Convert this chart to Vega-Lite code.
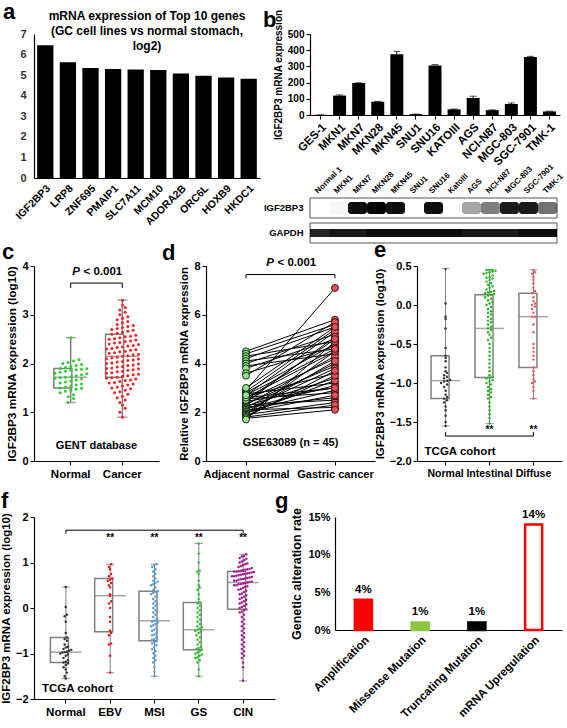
{
"$schema":"https://vega.github.io/schema/vega-lite/v6.json",
"padding":0,
"background":"white",
"config":{
 "font":"Liberation Sans",
 "view":{"stroke":null},
 "axis":{"grid":false,"domainColor":"#000","tickColor":"#000","labelColor":"#000","titleColor":"#000","labelFont":"Liberation Sans","titleFont":"Liberation Sans","labelFontWeight":"bold","titleFontWeight":"bold","labelFontSize":11,"titleFontSize":11.5,"tickSize":4,"domainWidth":1.2,"labelOverlap":false},
 "title":{"anchor":"start","frame":"group","fontSize":22,"fontWeight":"bold","color":"#000","font":"Liberation Sans"},
 "text":{"font":"Liberation Sans"}
},
"datasets":{
 "cbox":[{"g":"Normal","lo":1.2,"q1":1.5,"md":1.72,"q3":1.9,"hi":2.53},{"g":"Cancer","lo":0.9,"q1":1.72,"md":2.15,"q3":2.6,"hi":3.3}],
 "ebox":[{"g":"Normal","lo":-1.55,"q1":-1.2,"md":-0.97,"q3":-0.65,"hi":0.47},{"g":"Intestinal","lo":-1.52,"q1":-0.93,"md":-0.3,"q3":0.13,"hi":0.45},{"g":"Diffuse","lo":-1.2,"q1":-0.8,"md":-0.15,"q3":0.15,"hi":0.45}],
 "fbox":[{"g":"Normal","lo":-1.55,"q1":-1.2,"md":-0.97,"q3":-0.65,"hi":0.46},{"g":"EBV","lo":-1.42,"q1":-0.52,"md":0.27,"q3":0.65,"hi":0.96},{"g":"MSI","lo":-1.5,"q1":-0.72,"md":-0.28,"q3":0.37,"hi":0.96},{"g":"GS","lo":-1.5,"q1":-0.92,"md":-0.48,"q3":0.12,"hi":1.42},{"g":"CIN","lo":-1.6,"q1":-0.03,"md":0.56,"q3":0.8,"hi":1.18}],
 "cpts":[
{"g":"Normal","v":1.2},{"g":"Normal","v":1.28},{"g":"Normal","v":1.32},{"g":"Normal","v":1.36},{"g":"Normal","v":1.4},{"g":"Normal","v":1.43},{"g":"Normal","v":1.45},{"g":"Normal","v":1.47},{"g":"Normal","v":1.49},{"g":"Normal","v":1.5},{"g":"Normal","v":1.52},{"g":"Normal","v":1.54},{"g":"Normal","v":1.56},{"g":"Normal","v":1.58},{"g":"Normal","v":1.6},{"g":"Normal","v":1.62},{"g":"Normal","v":1.64},{"g":"Normal","v":1.66},{"g":"Normal","v":1.68},{"g":"Normal","v":1.7},{"g":"Normal","v":1.71},{"g":"Normal","v":1.72},{"g":"Normal","v":1.73},{"g":"Normal","v":1.75},{"g":"Normal","v":1.77},{"g":"Normal","v":1.79},{"g":"Normal","v":1.8},{"g":"Normal","v":1.82},{"g":"Normal","v":1.84},{"g":"Normal","v":1.86},{"g":"Normal","v":1.87},{"g":"Normal","v":1.88},{"g":"Normal","v":1.89},{"g":"Normal","v":1.9},{"g":"Normal","v":1.92},{"g":"Normal","v":1.94},{"g":"Normal","v":1.96},{"g":"Normal","v":1.98},{"g":"Normal","v":2.0},{"g":"Normal","v":2.02},{"g":"Normal","v":2.05},{"g":"Normal","v":2.08},{"g":"Normal","v":2.53},
{"g":"Cancer","v":0.9},{"g":"Cancer","v":1.0},{"g":"Cancer","v":1.08},{"g":"Cancer","v":1.15},{"g":"Cancer","v":1.2},{"g":"Cancer","v":1.25},{"g":"Cancer","v":1.3},{"g":"Cancer","v":1.33},{"g":"Cancer","v":1.37},{"g":"Cancer","v":1.4},{"g":"Cancer","v":1.42},{"g":"Cancer","v":1.45},{"g":"Cancer","v":1.48},{"g":"Cancer","v":1.5},{"g":"Cancer","v":1.52},{"g":"Cancer","v":1.54},{"g":"Cancer","v":1.56},{"g":"Cancer","v":1.58},{"g":"Cancer","v":1.6},{"g":"Cancer","v":1.61},{"g":"Cancer","v":1.63},{"g":"Cancer","v":1.65},{"g":"Cancer","v":1.66},{"g":"Cancer","v":1.68},{"g":"Cancer","v":1.7},{"g":"Cancer","v":1.71},{"g":"Cancer","v":1.72},{"g":"Cancer","v":1.74},{"g":"Cancer","v":1.75},{"g":"Cancer","v":1.77},{"g":"Cancer","v":1.78},{"g":"Cancer","v":1.8},{"g":"Cancer","v":1.81},{"g":"Cancer","v":1.83},{"g":"Cancer","v":1.84},{"g":"Cancer","v":1.86},{"g":"Cancer","v":1.87},{"g":"Cancer","v":1.89},{"g":"Cancer","v":1.9},{"g":"Cancer","v":1.91},{"g":"Cancer","v":1.93},{"g":"Cancer","v":1.94},{"g":"Cancer","v":1.96},{"g":"Cancer","v":1.97},{"g":"Cancer","v":1.99},{"g":"Cancer","v":2.0},{"g":"Cancer","v":2.01},{"g":"Cancer","v":2.03},{"g":"Cancer","v":2.04},{"g":"Cancer","v":2.06},{"g":"Cancer","v":2.07},{"g":"Cancer","v":2.09},{"g":"Cancer","v":2.1},{"g":"Cancer","v":2.12},{"g":"Cancer","v":2.13},{"g":"Cancer","v":2.15},{"g":"Cancer","v":2.16},{"g":"Cancer","v":2.18},{"g":"Cancer","v":2.19},{"g":"Cancer","v":2.21},{"g":"Cancer","v":2.22},{"g":"Cancer","v":2.24},{"g":"Cancer","v":2.25},{"g":"Cancer","v":2.27},{"g":"Cancer","v":2.28},{"g":"Cancer","v":2.3},{"g":"Cancer","v":2.31},{"g":"Cancer","v":2.33},{"g":"Cancer","v":2.34},{"g":"Cancer","v":2.36},{"g":"Cancer","v":2.37},{"g":"Cancer","v":2.39},{"g":"Cancer","v":2.4},{"g":"Cancer","v":2.42},{"g":"Cancer","v":2.43},{"g":"Cancer","v":2.45},{"g":"Cancer","v":2.46},{"g":"Cancer","v":2.48},{"g":"Cancer","v":2.5},{"g":"Cancer","v":2.51},{"g":"Cancer","v":2.53},{"g":"Cancer","v":2.55},{"g":"Cancer","v":2.56},{"g":"Cancer","v":2.58},{"g":"Cancer","v":2.6},{"g":"Cancer","v":2.62},{"g":"Cancer","v":2.64},{"g":"Cancer","v":2.66},{"g":"Cancer","v":2.68},{"g":"Cancer","v":2.7},{"g":"Cancer","v":2.72},{"g":"Cancer","v":2.74},{"g":"Cancer","v":2.76},{"g":"Cancer","v":2.78},{"g":"Cancer","v":2.8},{"g":"Cancer","v":2.83},{"g":"Cancer","v":2.86},{"g":"Cancer","v":2.9},{"g":"Cancer","v":2.93},{"g":"Cancer","v":2.96},{"g":"Cancer","v":3.0},{"g":"Cancer","v":3.05},{"g":"Cancer","v":3.1},{"g":"Cancer","v":3.15},{"g":"Cancer","v":3.2},{"g":"Cancer","v":3.3}
 ],
 "dpts":[
{"p":1,"g":"Adjacent normal","v":4.5},{"p":1,"g":"Gastric cancer","v":5.8},
{"p":2,"g":"Adjacent normal","v":4.4},{"p":2,"g":"Gastric cancer","v":5.6},
{"p":3,"g":"Adjacent normal","v":4.3},{"p":3,"g":"Gastric cancer","v":4.9},
{"p":4,"g":"Adjacent normal","v":4.2},{"p":4,"g":"Gastric cancer","v":5.5},
{"p":5,"g":"Adjacent normal","v":4.1},{"p":5,"g":"Gastric cancer","v":4.6},
{"p":6,"g":"Adjacent normal","v":4.0},{"p":6,"g":"Gastric cancer","v":5.2},
{"p":7,"g":"Adjacent normal","v":3.9},{"p":7,"g":"Gastric cancer","v":4.4},
{"p":8,"g":"Adjacent normal","v":3.8},{"p":8,"g":"Gastric cancer","v":5.0},
{"p":9,"g":"Adjacent normal","v":3.6},{"p":9,"g":"Gastric cancer","v":4.7},
{"p":10,"g":"Adjacent normal","v":3.5},{"p":10,"g":"Gastric cancer","v":5.7},
{"p":11,"g":"Adjacent normal","v":2.9},{"p":11,"g":"Gastric cancer","v":7.1},
{"p":12,"g":"Adjacent normal","v":2.85},{"p":12,"g":"Gastric cancer","v":5.4},
{"p":13,"g":"Adjacent normal","v":2.8},{"p":13,"g":"Gastric cancer","v":4.8},
{"p":14,"g":"Adjacent normal","v":2.75},{"p":14,"g":"Gastric cancer","v":3.2},
{"p":15,"g":"Adjacent normal","v":2.7},{"p":15,"g":"Gastric cancer","v":5.3},
{"p":16,"g":"Adjacent normal","v":2.65},{"p":16,"g":"Gastric cancer","v":3.6},
{"p":17,"g":"Adjacent normal","v":2.6},{"p":17,"g":"Gastric cancer","v":4.5},
{"p":18,"g":"Adjacent normal","v":2.55},{"p":18,"g":"Gastric cancer","v":2.8},
{"p":19,"g":"Adjacent normal","v":2.5},{"p":19,"g":"Gastric cancer","v":4.2},
{"p":20,"g":"Adjacent normal","v":2.45},{"p":20,"g":"Gastric cancer","v":3.0},
{"p":21,"g":"Adjacent normal","v":2.4},{"p":21,"g":"Gastric cancer","v":5.1},
{"p":22,"g":"Adjacent normal","v":2.35},{"p":22,"g":"Gastric cancer","v":3.9},
{"p":23,"g":"Adjacent normal","v":2.3},{"p":23,"g":"Gastric cancer","v":2.5},
{"p":24,"g":"Adjacent normal","v":2.3},{"p":24,"g":"Gastric cancer","v":4.3},
{"p":25,"g":"Adjacent normal","v":2.25},{"p":25,"g":"Gastric cancer","v":3.4},
{"p":26,"g":"Adjacent normal","v":2.2},{"p":26,"g":"Gastric cancer","v":2.6},
{"p":27,"g":"Adjacent normal","v":2.2},{"p":27,"g":"Gastric cancer","v":4.0},
{"p":28,"g":"Adjacent normal","v":2.15},{"p":28,"g":"Gastric cancer","v":3.1},
{"p":29,"g":"Adjacent normal","v":2.1},{"p":29,"g":"Gastric cancer","v":2.2},
{"p":30,"g":"Adjacent normal","v":2.1},{"p":30,"g":"Gastric cancer","v":3.8},
{"p":31,"g":"Adjacent normal","v":2.05},{"p":31,"g":"Gastric cancer","v":2.9},
{"p":32,"g":"Adjacent normal","v":2.0},{"p":32,"g":"Gastric cancer","v":4.1},
{"p":33,"g":"Adjacent normal","v":2.0},{"p":33,"g":"Gastric cancer","v":2.7},
{"p":34,"g":"Adjacent normal","v":1.95},{"p":34,"g":"Gastric cancer","v":3.3},
{"p":35,"g":"Adjacent normal","v":1.9},{"p":35,"g":"Gastric cancer","v":2.4},
{"p":36,"g":"Adjacent normal","v":1.9},{"p":36,"g":"Gastric cancer","v":4.5},
{"p":37,"g":"Adjacent normal","v":1.85},{"p":37,"g":"Gastric cancer","v":3.5},
{"p":38,"g":"Adjacent normal","v":1.8},{"p":38,"g":"Gastric cancer","v":2.3},
{"p":39,"g":"Adjacent normal","v":1.8},{"p":39,"g":"Gastric cancer","v":3.7},
{"p":40,"g":"Adjacent normal","v":1.75},{"p":40,"g":"Gastric cancer","v":2.1},
{"p":41,"g":"Adjacent normal","v":1.7},{"p":41,"g":"Gastric cancer","v":4.9},
{"p":42,"g":"Adjacent normal","v":2.5},{"p":42,"g":"Gastric cancer","v":5.0},
{"p":43,"g":"Adjacent normal","v":2.6},{"p":43,"g":"Gastric cancer","v":3.0},
{"p":44,"g":"Adjacent normal","v":2.7},{"p":44,"g":"Gastric cancer","v":4.6},
{"p":45,"g":"Adjacent normal","v":3.0},{"p":45,"g":"Gastric cancer","v":5.5}
 ],
 "epts":[
{"g":"Normal","v":-1.55},{"g":"Normal","v":-1.5},{"g":"Normal","v":-1.42},{"g":"Normal","v":-1.35},{"g":"Normal","v":-1.3},{"g":"Normal","v":-1.25},{"g":"Normal","v":-1.22},{"g":"Normal","v":-1.2},{"g":"Normal","v":-1.18},{"g":"Normal","v":-1.15},{"g":"Normal","v":-1.1},{"g":"Normal","v":-1.05},{"g":"Normal","v":-1.02},{"g":"Normal","v":-1.0},{"g":"Normal","v":-0.98},{"g":"Normal","v":-0.97},{"g":"Normal","v":-0.96},{"g":"Normal","v":-0.94},{"g":"Normal","v":-0.92},{"g":"Normal","v":-0.9},{"g":"Normal","v":-0.87},{"g":"Normal","v":-0.85},{"g":"Normal","v":-0.8},{"g":"Normal","v":-0.72},{"g":"Normal","v":-0.68},{"g":"Normal","v":-0.65},{"g":"Normal","v":-0.55},{"g":"Normal","v":-0.3},{"g":"Normal","v":-0.18},{"g":"Normal","v":-0.15},{"g":"Normal","v":0.02},{"g":"Normal","v":0.46},
{"g":"Intestinal","v":-1.52},{"g":"Intestinal","v":-1.45},{"g":"Intestinal","v":-1.4},{"g":"Intestinal","v":-1.35},{"g":"Intestinal","v":-1.3},{"g":"Intestinal","v":-1.25},{"g":"Intestinal","v":-1.2},{"g":"Intestinal","v":-1.18},{"g":"Intestinal","v":-1.15},{"g":"Intestinal","v":-1.12},{"g":"Intestinal","v":-1.1},{"g":"Intestinal","v":-1.08},{"g":"Intestinal","v":-1.05},{"g":"Intestinal","v":-1.02},{"g":"Intestinal","v":-1.0},{"g":"Intestinal","v":-0.98},{"g":"Intestinal","v":-0.96},{"g":"Intestinal","v":-0.94},{"g":"Intestinal","v":-0.93},{"g":"Intestinal","v":-0.92},{"g":"Intestinal","v":-0.9},{"g":"Intestinal","v":-0.85},{"g":"Intestinal","v":-0.8},{"g":"Intestinal","v":-0.75},{"g":"Intestinal","v":-0.7},{"g":"Intestinal","v":-0.65},{"g":"Intestinal","v":-0.6},{"g":"Intestinal","v":-0.55},{"g":"Intestinal","v":-0.5},{"g":"Intestinal","v":-0.45},{"g":"Intestinal","v":-0.42},{"g":"Intestinal","v":-0.38},{"g":"Intestinal","v":-0.35},{"g":"Intestinal","v":-0.32},{"g":"Intestinal","v":-0.3},{"g":"Intestinal","v":-0.28},{"g":"Intestinal","v":-0.25},{"g":"Intestinal","v":-0.22},{"g":"Intestinal","v":-0.2},{"g":"Intestinal","v":-0.18},{"g":"Intestinal","v":-0.15},{"g":"Intestinal","v":-0.12},{"g":"Intestinal","v":-0.1},{"g":"Intestinal","v":-0.08},{"g":"Intestinal","v":-0.05},{"g":"Intestinal","v":-0.03},{"g":"Intestinal","v":0.0},{"g":"Intestinal","v":0.02},{"g":"Intestinal","v":0.04},{"g":"Intestinal","v":0.06},{"g":"Intestinal","v":0.08},{"g":"Intestinal","v":0.1},{"g":"Intestinal","v":0.12},{"g":"Intestinal","v":0.13},{"g":"Intestinal","v":0.14},{"g":"Intestinal","v":0.15},{"g":"Intestinal","v":0.16},{"g":"Intestinal","v":0.17},{"g":"Intestinal","v":0.18},{"g":"Intestinal","v":0.2},{"g":"Intestinal","v":0.22},{"g":"Intestinal","v":0.24},{"g":"Intestinal","v":0.26},{"g":"Intestinal","v":0.28},{"g":"Intestinal","v":0.3},{"g":"Intestinal","v":0.32},{"g":"Intestinal","v":0.34},{"g":"Intestinal","v":0.35},{"g":"Intestinal","v":0.36},{"g":"Intestinal","v":0.38},{"g":"Intestinal","v":0.4},{"g":"Intestinal","v":0.41},{"g":"Intestinal","v":0.42},{"g":"Intestinal","v":0.43},{"g":"Intestinal","v":0.44},{"g":"Intestinal","v":0.45},{"g":"Intestinal","v":0.45},{"g":"Intestinal","v":0.45},
{"g":"Diffuse","v":-1.2},{"g":"Diffuse","v":-1.1},{"g":"Diffuse","v":-1.05},{"g":"Diffuse","v":-1.0},{"g":"Diffuse","v":-0.98},{"g":"Diffuse","v":-0.95},{"g":"Diffuse","v":-0.9},{"g":"Diffuse","v":-0.85},{"g":"Diffuse","v":-0.8},{"g":"Diffuse","v":-0.7},{"g":"Diffuse","v":-0.65},{"g":"Diffuse","v":-0.6},{"g":"Diffuse","v":-0.55},{"g":"Diffuse","v":-0.5},{"g":"Diffuse","v":-0.35},{"g":"Diffuse","v":-0.25},{"g":"Diffuse","v":-0.15},{"g":"Diffuse","v":-0.15},{"g":"Diffuse","v":-0.1},{"g":"Diffuse","v":-0.05},{"g":"Diffuse","v":-0.02},{"g":"Diffuse","v":0.0},{"g":"Diffuse","v":0.02},{"g":"Diffuse","v":0.05},{"g":"Diffuse","v":0.1},{"g":"Diffuse","v":0.15},{"g":"Diffuse","v":0.18},{"g":"Diffuse","v":0.22},{"g":"Diffuse","v":0.28},{"g":"Diffuse","v":0.32},{"g":"Diffuse","v":0.36},{"g":"Diffuse","v":0.4},{"g":"Diffuse","v":0.42},{"g":"Diffuse","v":0.45}
 ],
 "fpts":[
{"g":"Normal","v":-1.55},{"g":"Normal","v":-1.5},{"g":"Normal","v":-1.42},{"g":"Normal","v":-1.35},{"g":"Normal","v":-1.3},{"g":"Normal","v":-1.25},{"g":"Normal","v":-1.22},{"g":"Normal","v":-1.2},{"g":"Normal","v":-1.18},{"g":"Normal","v":-1.15},{"g":"Normal","v":-1.1},{"g":"Normal","v":-1.05},{"g":"Normal","v":-1.02},{"g":"Normal","v":-1.0},{"g":"Normal","v":-0.98},{"g":"Normal","v":-0.97},{"g":"Normal","v":-0.96},{"g":"Normal","v":-0.94},{"g":"Normal","v":-0.92},{"g":"Normal","v":-0.9},{"g":"Normal","v":-0.87},{"g":"Normal","v":-0.85},{"g":"Normal","v":-0.8},{"g":"Normal","v":-0.72},{"g":"Normal","v":-0.68},{"g":"Normal","v":-0.65},{"g":"Normal","v":-0.55},{"g":"Normal","v":-0.3},{"g":"Normal","v":-0.18},{"g":"Normal","v":-0.15},{"g":"Normal","v":0.02},{"g":"Normal","v":0.46},
{"g":"EBV","v":-1.42},{"g":"EBV","v":-1.05},{"g":"EBV","v":-0.8},{"g":"EBV","v":-0.78},{"g":"EBV","v":-0.6},{"g":"EBV","v":-0.55},{"g":"EBV","v":-0.5},{"g":"EBV","v":-0.3},{"g":"EBV","v":-0.2},{"g":"EBV","v":0.0},{"g":"EBV","v":0.1},{"g":"EBV","v":0.15},{"g":"EBV","v":0.27},{"g":"EBV","v":0.3},{"g":"EBV","v":0.45},{"g":"EBV","v":0.5},{"g":"EBV","v":0.55},{"g":"EBV","v":0.6},{"g":"EBV","v":0.62},{"g":"EBV","v":0.65},{"g":"EBV","v":0.7},{"g":"EBV","v":0.75},{"g":"EBV","v":0.85},{"g":"EBV","v":0.9},{"g":"EBV","v":0.96},
{"g":"MSI","v":-1.5},{"g":"MSI","v":-1.4},{"g":"MSI","v":-1.3},{"g":"MSI","v":-1.2},{"g":"MSI","v":-1.15},{"g":"MSI","v":-1.1},{"g":"MSI","v":-1.05},{"g":"MSI","v":-1.0},{"g":"MSI","v":-0.95},{"g":"MSI","v":-0.9},{"g":"MSI","v":-0.85},{"g":"MSI","v":-0.82},{"g":"MSI","v":-0.78},{"g":"MSI","v":-0.75},{"g":"MSI","v":-0.73},{"g":"MSI","v":-0.7},{"g":"MSI","v":-0.68},{"g":"MSI","v":-0.65},{"g":"MSI","v":-0.6},{"g":"MSI","v":-0.58},{"g":"MSI","v":-0.55},{"g":"MSI","v":-0.5},{"g":"MSI","v":-0.48},{"g":"MSI","v":-0.45},{"g":"MSI","v":-0.4},{"g":"MSI","v":-0.38},{"g":"MSI","v":-0.35},{"g":"MSI","v":-0.32},{"g":"MSI","v":-0.3},{"g":"MSI","v":-0.28},{"g":"MSI","v":-0.25},{"g":"MSI","v":-0.2},{"g":"MSI","v":-0.15},{"g":"MSI","v":-0.1},{"g":"MSI","v":-0.05},{"g":"MSI","v":0.0},{"g":"MSI","v":0.05},{"g":"MSI","v":0.1},{"g":"MSI","v":0.15},{"g":"MSI","v":0.2},{"g":"MSI","v":0.25},{"g":"MSI","v":0.3},{"g":"MSI","v":0.33},{"g":"MSI","v":0.35},{"g":"MSI","v":0.37},{"g":"MSI","v":0.4},{"g":"MSI","v":0.45},{"g":"MSI","v":0.5},{"g":"MSI","v":0.52},{"g":"MSI","v":0.55},{"g":"MSI","v":0.58},{"g":"MSI","v":0.6},{"g":"MSI","v":0.65},{"g":"MSI","v":0.7},{"g":"MSI","v":0.75},{"g":"MSI","v":0.8},{"g":"MSI","v":0.85},{"g":"MSI","v":0.9},{"g":"MSI","v":0.93},{"g":"MSI","v":0.96},
{"g":"GS","v":-1.5},{"g":"GS","v":-1.35},{"g":"GS","v":-1.2},{"g":"GS","v":-1.15},{"g":"GS","v":-1.1},{"g":"GS","v":-1.08},{"g":"GS","v":-1.05},{"g":"GS","v":-1.02},{"g":"GS","v":-1.0},{"g":"GS","v":-0.98},{"g":"GS","v":-0.95},{"g":"GS","v":-0.92},{"g":"GS","v":-0.9},{"g":"GS","v":-0.88},{"g":"GS","v":-0.85},{"g":"GS","v":-0.8},{"g":"GS","v":-0.75},{"g":"GS","v":-0.7},{"g":"GS","v":-0.65},{"g":"GS","v":-0.6},{"g":"GS","v":-0.55},{"g":"GS","v":-0.52},{"g":"GS","v":-0.5},{"g":"GS","v":-0.48},{"g":"GS","v":-0.45},{"g":"GS","v":-0.42},{"g":"GS","v":-0.4},{"g":"GS","v":-0.35},{"g":"GS","v":-0.3},{"g":"GS","v":-0.25},{"g":"GS","v":-0.2},{"g":"GS","v":-0.15},{"g":"GS","v":-0.1},{"g":"GS","v":-0.05},{"g":"GS","v":0.0},{"g":"GS","v":0.05},{"g":"GS","v":0.1},{"g":"GS","v":0.12},{"g":"GS","v":0.2},{"g":"GS","v":0.3},{"g":"GS","v":0.4},{"g":"GS","v":0.45},{"g":"GS","v":0.5},{"g":"GS","v":0.6},{"g":"GS","v":0.75},{"g":"GS","v":0.8},{"g":"GS","v":0.82},{"g":"GS","v":1.0},{"g":"GS","v":1.2},{"g":"GS","v":1.42},
{"g":"CIN","v":-1.6},{"g":"CIN","v":-1.3},{"g":"CIN","v":-1.2},{"g":"CIN","v":-1.1},{"g":"CIN","v":-1.05},{"g":"CIN","v":-1.0},{"g":"CIN","v":-0.95},{"g":"CIN","v":-0.9},{"g":"CIN","v":-0.85},{"g":"CIN","v":-0.8},{"g":"CIN","v":-0.75},{"g":"CIN","v":-0.7},{"g":"CIN","v":-0.65},{"g":"CIN","v":-0.6},{"g":"CIN","v":-0.55},{"g":"CIN","v":-0.5},{"g":"CIN","v":-0.45},{"g":"CIN","v":-0.4},{"g":"CIN","v":-0.35},{"g":"CIN","v":-0.3},{"g":"CIN","v":-0.25},{"g":"CIN","v":-0.2},{"g":"CIN","v":-0.15},{"g":"CIN","v":-0.1},{"g":"CIN","v":-0.08},{"g":"CIN","v":-0.05},{"g":"CIN","v":-0.03},{"g":"CIN","v":0.0},{"g":"CIN","v":0.02},{"g":"CIN","v":0.05},{"g":"CIN","v":0.08},{"g":"CIN","v":0.1},{"g":"CIN","v":0.12},{"g":"CIN","v":0.15},{"g":"CIN","v":0.18},{"g":"CIN","v":0.2},{"g":"CIN","v":0.22},{"g":"CIN","v":0.25},{"g":"CIN","v":0.28},{"g":"CIN","v":0.3},{"g":"CIN","v":0.32},{"g":"CIN","v":0.35},{"g":"CIN","v":0.38},{"g":"CIN","v":0.4},{"g":"CIN","v":0.42},{"g":"CIN","v":0.44},{"g":"CIN","v":0.46},{"g":"CIN","v":0.48},{"g":"CIN","v":0.5},{"g":"CIN","v":0.5},{"g":"CIN","v":0.52},{"g":"CIN","v":0.53},{"g":"CIN","v":0.54},{"g":"CIN","v":0.55},{"g":"CIN","v":0.56},{"g":"CIN","v":0.57},{"g":"CIN","v":0.58},{"g":"CIN","v":0.6},{"g":"CIN","v":0.6},{"g":"CIN","v":0.62},{"g":"CIN","v":0.63},{"g":"CIN","v":0.64},{"g":"CIN","v":0.65},{"g":"CIN","v":0.66},{"g":"CIN","v":0.67},{"g":"CIN","v":0.68},{"g":"CIN","v":0.7},{"g":"CIN","v":0.7},{"g":"CIN","v":0.71},{"g":"CIN","v":0.72},{"g":"CIN","v":0.73},{"g":"CIN","v":0.74},{"g":"CIN","v":0.75},{"g":"CIN","v":0.76},{"g":"CIN","v":0.77},{"g":"CIN","v":0.78},{"g":"CIN","v":0.79},{"g":"CIN","v":0.8},{"g":"CIN","v":0.8},{"g":"CIN","v":0.81},{"g":"CIN","v":0.82},{"g":"CIN","v":0.83},{"g":"CIN","v":0.84},{"g":"CIN","v":0.85},{"g":"CIN","v":0.86},{"g":"CIN","v":0.88},{"g":"CIN","v":0.9},{"g":"CIN","v":0.92},{"g":"CIN","v":0.94},{"g":"CIN","v":0.96},{"g":"CIN","v":0.98},{"g":"CIN","v":1.0},{"g":"CIN","v":1.02},{"g":"CIN","v":1.05},{"g":"CIN","v":1.08},{"g":"CIN","v":1.1},{"g":"CIN","v":1.13},{"g":"CIN","v":1.15},{"g":"CIN","v":1.18}
 ]
},
"spacing":10,
"resolve":{"scale":{"color":"independent","xOffset":"independent","opacity":"independent","fill":"independent","stroke":"independent"}},
"vconcat":[
 {"spacing":-5,
  "resolve":{"scale":{"color":"independent","xOffset":"independent","opacity":"independent","fill":"independent","stroke":"independent"}},
  "vconcat":[
  {"spacing":3,
   "resolve":{"scale":{"color":"independent","xOffset":"independent","opacity":"independent","fill":"independent","stroke":"independent"}},
   "hconcat":[
    {"width":226,"height":144,
     "title":{"text":"a","dx":-31,"offset":-13.4},
     "data":{"values":[{"gene":"IGF2BP3","v":6.45},{"gene":"LRP8","v":5.63},{"gene":"ZNF695","v":5.35},{"gene":"PMAIP1","v":5.3},{"gene":"SLC7A11","v":5.28},{"gene":"MCM10","v":5.25},{"gene":"ADORA2B","v":5.08},{"gene":"ORC6L","v":4.97},{"gene":"HOXB9","v":4.88},{"gene":"HKDC1","v":4.82}]},
     "layer":[
      {"mark":{"type":"bar","color":"#000","width":{"band":0.72}},
       "encoding":{
        "x":{"field":"gene","type":"nominal","sort":null,"scale":{"paddingInner":0,"paddingOuter":0},"axis":{"title":null,"labelAngle":-45,"ticks":false,"labelFontSize":10.5,"labelPadding":5}},
        "y":{"field":"v","type":"quantitative","scale":{"domain":[0,7]},"axis":{"title":null,"values":[0,1,2,3,4,5,6,7],"tickCount":20,"format":"d","labelOverlap":false,"ticks":false,"labelPadding":8,"labelColor":"#333"}}}},
      {"data":{"values":[{}]},"mark":{"type":"text","text":"mRNA expression of Top 10 genes","fontSize":12,"fontWeight":"bold"},
       "encoding":{"y":{"datum":7.86,"type":"quantitative","scale":{"domain":[0,7]}}}},
      {"data":{"values":[{}]},"mark":{"type":"text","text":"(GC cell lines vs normal stomach,","fontSize":12,"fontWeight":"bold"},
       "encoding":{"y":{"datum":7.14,"type":"quantitative","scale":{"domain":[0,7]}}}},
      {"data":{"values":[{}]},"mark":{"type":"text","text":"log2)","fontSize":12,"fontWeight":"bold"},
       "encoding":{"y":{"datum":6.41,"type":"quantitative","scale":{"domain":[0,7]}}}}
     ]},
    {"spacing":-6,
     "resolve":{"scale":{"color":"independent","xOffset":"independent","opacity":"independent","fill":"independent","stroke":"independent"}},
     "vconcat":[
     {"width":250,"height":81,
      "title":{"text":"b","dx":-47,"offset":-22.4},
      "data":{"values":[{"c":"GES-1","v":1,"hi":1},{"c":"MKN1","v":120,"hi":124},{"c":"MKN7","v":197,"hi":199},{"c":"MKN28","v":82,"hi":84},{"c":"MKN45","v":375,"hi":393},{"c":"SNU1","v":5,"hi":6},{"c":"SNU16","v":305,"hi":311},{"c":"KATOIII","v":35,"hi":37},{"c":"AGS","v":105,"hi":116},{"c":"NCI-N87","v":30,"hi":32},{"c":"MGC-803","v":68,"hi":74},{"c":"SGC-7901","v":358,"hi":362},{"c":"TMK-1","v":22,"hi":24}]},
      "layer":[
       {"mark":{"type":"bar","color":"#000","width":{"band":0.68}},
        "encoding":{
         "x":{"field":"c","type":"nominal","sort":null,"scale":{"paddingInner":0,"paddingOuter":0.05},"axis":{"title":null,"labelAngle":-45,"labelFontSize":11.5,"labelPadding":2}},
         "y":{"field":"v","type":"quantitative","scale":{"domain":[0,500]},"axis":{"title":"IGF2BP3 mRNA expression","titleFontSize":10,"values":[0,100,200,300,400,500],"tickCount":20,"format":"d","labelOverlap":false,"labelFontSize":10}}}},
       {"mark":{"type":"rule","color":"#000","strokeWidth":1},
        "encoding":{"x":{"field":"c","type":"nominal","sort":null},"y":{"field":"v","type":"quantitative","scale":{"domain":[0,500]}},"y2":{"field":"hi"}}},
       {"mark":{"type":"tick","color":"#000","size":7,"thickness":1},
        "encoding":{"x":{"field":"c","type":"nominal","sort":null},"y":{"field":"hi","type":"quantitative","scale":{"domain":[0,500]}}}}
      ]},
     {"width":247,"height":45,
      "data":{"values":[
{"lane":"Normal 1","row":"IGF2BP3","i":0},{"lane":"MKN1","row":"IGF2BP3","i":0.03},{"lane":"MKN7","row":"IGF2BP3","i":0.95},{"lane":"MKN28","row":"IGF2BP3","i":1},{"lane":"MKN45","row":"IGF2BP3","i":0.95},{"lane":"SNU1","row":"IGF2BP3","i":0},{"lane":"SNU16","row":"IGF2BP3","i":0.95},{"lane":"KatoIII","row":"IGF2BP3","i":0},{"lane":"AGS","row":"IGF2BP3","i":0.35},{"lane":"NCI-N87","row":"IGF2BP3","i":0.5},{"lane":"MGC-803","row":"IGF2BP3","i":0.9},{"lane":"SGC-7901","row":"IGF2BP3","i":0.9},{"lane":"TMK-1","row":"IGF2BP3","i":0.55},
{"lane":"Normal 1","row":"GAPDH","i":0.85},{"lane":"MKN1","row":"GAPDH","i":0.9},{"lane":"MKN7","row":"GAPDH","i":0.9},{"lane":"MKN28","row":"GAPDH","i":0.95},{"lane":"MKN45","row":"GAPDH","i":0.95},{"lane":"SNU1","row":"GAPDH","i":0.95},{"lane":"SNU16","row":"GAPDH","i":0.95},{"lane":"KatoIII","row":"GAPDH","i":0.95},{"lane":"AGS","row":"GAPDH","i":0.9},{"lane":"NCI-N87","row":"GAPDH","i":0.9},{"lane":"MGC-803","row":"GAPDH","i":0.9},{"lane":"SGC-7901","row":"GAPDH","i":0.95},{"lane":"TMK-1","row":"GAPDH","i":0.95}]},
      "layer":[
       {"transform":[{"filter":"datum.lane === 'Normal 1'"}],
        "mark":{"type":"rect","fill":"#fff","stroke":"#555","strokeWidth":1},
        "encoding":{"y":{"field":"row","type":"nominal","sort":["IGF2BP3","GAPDH"],"scale":{"paddingInner":0.2,"paddingOuter":0},"axis":{"title":null,"ticks":false,"domain":false,"labelFontSize":9.5,"labelPadding":7}}}},
       {"transform":[{"filter":"datum.row === 'IGF2BP3'"}],
        "mark":{"type":"rect","fill":"#000","height":{"band":0.6},"cornerRadius":3},
        "encoding":{
         "x":{"field":"lane","type":"nominal","sort":null,"scale":{"paddingInner":0,"paddingOuter":0},"axis":{"orient":"top","title":null,"labelAngle":-45,"ticks":false,"domain":false,"labelFontSize":8,"labelPadding":3}},
         "y":{"field":"row","type":"nominal","sort":["IGF2BP3","GAPDH"]},
         "opacity":{"field":"i","type":"quantitative","scale":{"domain":[0,1],"range":[0,1]},"legend":null}}},
       {"transform":[{"filter":"datum.row === 'GAPDH'"}],
        "mark":{"type":"rect","fill":"#000","height":{"band":0.4},"cornerRadius":0},
        "encoding":{
         "x":{"field":"lane","type":"nominal","sort":null},
         "y":{"field":"row","type":"nominal","sort":["IGF2BP3","GAPDH"]},
         "opacity":{"field":"i","type":"quantitative","scale":{"domain":[0,1],"range":[0,1]},"legend":null}}}
      ]}
    ]}
  ]},
  {"spacing":-1,
   "resolve":{"scale":{"color":"independent","xOffset":"independent","opacity":"independent","fill":"independent","stroke":"independent"}},
   "hconcat":[
   {"spacing":3,
    "resolve":{"scale":{"color":"independent","xOffset":"independent","opacity":"independent","fill":"independent","stroke":"independent"}},
    "hconcat":[
   {"width":125,"height":195,
    "title":{"text":"c","dx":-32,"offset":-4},
    "layer":[
     {"data":{"name":"cbox"},"mark":{"type":"rule","color":"#808080","strokeWidth":1.5},
      "encoding":{"x":{"field":"g","type":"nominal","scale":{"domain":["Normal","Cancer"],"paddingInner":0,"paddingOuter":0.21},"axis":{"title":null,"labelAngle":0,"labelFontSize":11.5,"labelPadding":3}},
       "y":{"field":"lo","type":"quantitative","scale":{"domain":[0,4]},"axis":{"title":"IGF2BP3 mRNA expression (log10)","values":[0,1,2,3,4],"tickCount":20,"labelOverlap":false,"format":"d","titleFontSize":11.8}},
       "y2":{"field":"hi"}}},
     {"data":{"name":"cbox"},"mark":{"type":"bar","fill":"#fff","stroke":"#808080","strokeWidth":1.5,"width":{"band":0.65}},
      "encoding":{"x":{"field":"g","type":"nominal","scale":{"domain":["Normal","Cancer"],"paddingInner":0,"paddingOuter":0.21}},"y":{"field":"q1","type":"quantitative","scale":{"domain":[0,4]}},"y2":{"field":"q3"}}},
     {"data":{"name":"cbox"},"mark":{"type":"tick","color":"#808080","thickness":1.5,"size":33},
      "encoding":{"x":{"field":"g","type":"nominal","scale":{"domain":["Normal","Cancer"],"paddingInner":0,"paddingOuter":0.21}},"y":{"field":"md","type":"quantitative","scale":{"domain":[0,4]}}}},
     {"data":{"name":"cbox"},"mark":{"type":"tick","color":"#808080","thickness":1.5,"size":10},
      "encoding":{"x":{"field":"g","type":"nominal","scale":{"domain":["Normal","Cancer"],"paddingInner":0,"paddingOuter":0.21}},"y":{"field":"lo","type":"quantitative","scale":{"domain":[0,4]}}}},
     {"data":{"name":"cbox"},"mark":{"type":"tick","color":"#808080","thickness":1.5,"size":10},
      "encoding":{"x":{"field":"g","type":"nominal","scale":{"domain":["Normal","Cancer"],"paddingInner":0,"paddingOuter":0.21}},"y":{"field":"hi","type":"quantitative","scale":{"domain":[0,4]}}}},
     {"data":{"name":"cpts"},
      "transform":[{"bin":{"step":0.1},"field":"v","as":"vb"},{"window":[{"op":"count","as":"one"}],"frame":[0,0]},{"stack":"one","groupby":["g","vb"],"offset":"center","as":["s0","s1"]}],
      "mark":{"type":"circle","size":9,"opacity":1},
      "encoding":{"x":{"field":"g","type":"nominal","scale":{"domain":["Normal","Cancer"],"paddingInner":0,"paddingOuter":0.21}},
       "xOffset":{"field":"s0","type":"quantitative","scale":{"range":[10,42],"nice":false,"zero":true}},
       "y":{"field":"v","type":"quantitative","scale":{"domain":[0,4]}},
       "color":{"field":"g","type":"nominal","scale":{"domain":["Normal","Cancer"],"range":["#2ecc2e","#ee2222"]},"legend":null}}},
     {"data":{"values":[{}]},"mark":{"type":"rule","color":"#000","strokeWidth":1},
      "encoding":{"x":{"datum":"Normal","type":"nominal"},"x2":{"datum":"Cancer"},"y":{"datum":3.65,"type":"quantitative","scale":{"domain":[0,4]}}}},
     {"data":{"values":[{"g":"Normal"},{"g":"Cancer"}]},"mark":{"type":"rule","color":"#000","strokeWidth":1},
      "encoding":{"x":{"field":"g","type":"nominal","scale":{"domain":["Normal","Cancer"],"paddingInner":0,"paddingOuter":0.21}},"y":{"datum":3.65,"type":"quantitative","scale":{"domain":[0,4]}},"y2":{"datum":3.55}}},
     {"data":{"values":[{}]},"mark":{"type":"text","text":"P","fontStyle":"italic","fontWeight":"bold","fontSize":11.5,"align":"right","dx":-16.5},
      "encoding":{"y":{"datum":3.88,"type":"quantitative","scale":{"domain":[0,4]}}}},
     {"data":{"values":[{}]},"mark":{"type":"text","text":"< 0.001","fontWeight":"bold","fontSize":11.5,"align":"left","dx":-13},
      "encoding":{"y":{"datum":3.88,"type":"quantitative","scale":{"domain":[0,4]}}}},
     {"data":{"values":[{}]},"mark":{"type":"text","text":"GENT database","fontWeight":"bold","fontSize":11},
      "encoding":{"y":{"datum":0.3,"type":"quantitative","scale":{"domain":[0,4]}}}}
    ]},
   {"width":169,"height":195,
    "title":{"text":"d","dx":-44,"offset":-8.1},
    "layer":[
     {"data":{"name":"dpts"},"mark":{"type":"line","color":"#000","strokeWidth":1},
      "encoding":{"x":{"field":"g","type":"nominal","scale":{"type":"point","domain":["Adjacent normal","Gastric cancer"],"padding":0.45},"axis":{"title":null,"labelAngle":0,"labelFontSize":11,"labelPadding":3}},
       "y":{"field":"v","type":"quantitative","scale":{"domain":[0,8]},"axis":{"title":"Relative IGF2BP3 mRNA expression","titleFontSize":11.3,"values":[0,2,4,6,8],"tickCount":20,"labelOverlap":false,"format":"d"}},
       "detail":{"field":"p","type":"nominal"}}},
     {"data":{"name":"dpts"},"mark":{"type":"circle","size":48,"stroke":"#000","strokeWidth":0.8,"opacity":1},
      "encoding":{"x":{"field":"g","type":"nominal","scale":{"type":"point","domain":["Adjacent normal","Gastric cancer"],"padding":0.45}},
       "y":{"field":"v","type":"quantitative","scale":{"domain":[0,8]}},
       "color":{"field":"g","type":"nominal","scale":{"domain":["Adjacent normal","Gastric cancer"],"range":["#8ee68e","#f25050"]},"legend":null}}},
     {"data":{"values":[{}]},"mark":{"type":"rule","color":"#000","strokeWidth":1},
      "encoding":{"x":{"datum":"Adjacent normal","type":"nominal"},"x2":{"datum":"Gastric cancer"},"y":{"datum":7.65,"type":"quantitative","scale":{"domain":[0,8]}}}},
     {"data":{"values":[{"g":"Adjacent normal"},{"g":"Gastric cancer"}]},"mark":{"type":"rule","color":"#000","strokeWidth":1},
      "encoding":{"x":{"field":"g","type":"nominal","scale":{"type":"point","domain":["Adjacent normal","Gastric cancer"],"padding":0.45}},"y":{"datum":7.65,"type":"quantitative","scale":{"domain":[0,8]}},"y2":{"datum":7.5}}},
     {"data":{"values":[{}]},"mark":{"type":"text","text":"P","fontStyle":"italic","fontWeight":"bold","fontSize":11.5,"align":"right","dx":-16.5},
      "encoding":{"y":{"datum":8.13,"type":"quantitative","scale":{"domain":[0,8]}}}},
     {"data":{"values":[{}]},"mark":{"type":"text","text":"< 0.001","fontWeight":"bold","fontSize":11.5,"align":"left","dx":-13},
      "encoding":{"y":{"datum":8.13,"type":"quantitative","scale":{"domain":[0,8]}}}},
     {"data":{"values":[{}]},"mark":{"type":"text","text":"GSE63089 (n = 45)","fontWeight":"bold","fontSize":11},
      "encoding":{"y":{"datum":0.74,"type":"quantitative","scale":{"domain":[0,8]}}}}
    ]}
   ]},
   {"width":145,"height":195,
    "title":{"text":"e","dx":-43,"offset":-2.4},
    "layer":[
     {"data":{"name":"ebox"},"mark":{"type":"rule","color":"#808080","strokeWidth":1},
      "encoding":{"x":{"field":"g","type":"nominal","scale":{"domain":["Normal","Intestinal","Diffuse"],"paddingInner":0,"paddingOuter":0.15},"axis":{"title":null,"labelAngle":0,"labelFontSize":10.5,"labelPadding":3}},
       "y":{"field":"lo","type":"quantitative","scale":{"domain":[-2,0.5]},"axis":{"title":"IGF2BP3 mRNA expression (log10)","values":[-2,-1.5,-1,-0.5,0,0.5],"tickCount":20,"labelOverlap":false,"format":".1f","titleFontSize":11.5}},
       "y2":{"field":"hi"}}},
     {"data":{"name":"ebox"},"mark":{"type":"bar","fill":"#fff","stroke":"#808080","strokeWidth":1.5,"width":{"band":0.66}},
      "encoding":{"x":{"field":"g","type":"nominal","scale":{"domain":["Normal","Intestinal","Diffuse"],"paddingInner":0,"paddingOuter":0.15}},"y":{"field":"q1","type":"quantitative","scale":{"domain":[-2,0.5]}},"y2":{"field":"q3"}}},
     {"data":{"name":"ebox"},"mark":{"type":"tick","color":"#808080","thickness":1.5,"size":29},
      "encoding":{"x":{"field":"g","type":"nominal","scale":{"domain":["Normal","Intestinal","Diffuse"],"paddingInner":0,"paddingOuter":0.15}},"y":{"field":"md","type":"quantitative","scale":{"domain":[-2,0.5]}}}},
     {"data":{"name":"ebox"},"mark":{"type":"tick","color":"#808080","thickness":1.2,"size":8},
      "encoding":{"x":{"field":"g","type":"nominal","scale":{"domain":["Normal","Intestinal","Diffuse"],"paddingInner":0,"paddingOuter":0.15}},"y":{"field":"lo","type":"quantitative","scale":{"domain":[-2,0.5]}}}},
     {"data":{"name":"ebox"},"mark":{"type":"tick","color":"#808080","thickness":1.2,"size":8},
      "encoding":{"x":{"field":"g","type":"nominal","scale":{"domain":["Normal","Intestinal","Diffuse"],"paddingInner":0,"paddingOuter":0.15}},"y":{"field":"hi","type":"quantitative","scale":{"domain":[-2,0.5]}}}},
     {"data":{"name":"epts"},
      "transform":[{"bin":{"step":0.05},"field":"v","as":"vb"},{"window":[{"op":"count","as":"one"}],"frame":[0,0]},{"stack":"one","groupby":["g","vb"],"offset":"center","as":["s0","s1"]}],
      "mark":{"type":"circle","size":6,"opacity":1},
      "encoding":{"x":{"field":"g","type":"nominal","scale":{"domain":["Normal","Intestinal","Diffuse"],"paddingInner":0,"paddingOuter":0.15}},
       "xOffset":{"field":"s0","type":"quantitative","scale":{"range":[16,28],"nice":false,"zero":true}},
       "y":{"field":"v","type":"quantitative","scale":{"domain":[-2,0.5]}},
       "color":{"field":"g","type":"nominal","scale":{"domain":["Normal","Intestinal","Diffuse"],"range":["#333333","#22b522","#e55a5a"]},"legend":null}}},
     {"data":{"values":[{}]},"mark":{"type":"rule","color":"#000","strokeWidth":1},
      "encoding":{"x":{"datum":"Normal","type":"nominal"},"x2":{"datum":"Diffuse"},"y":{"datum":-1.68,"type":"quantitative","scale":{"domain":[-2,0.5]}}}},
     {"data":{"values":[{"g":"Normal"},{"g":"Diffuse"}]},"mark":{"type":"rule","color":"#000","strokeWidth":1},
      "encoding":{"x":{"field":"g","type":"nominal","scale":{"domain":["Normal","Intestinal","Diffuse"],"paddingInner":0,"paddingOuter":0.15}},"y":{"datum":-1.68,"type":"quantitative","scale":{"domain":[-2,0.5]}},"y2":{"datum":-1.63}}},
     {"data":{"values":[{"g":"Intestinal"},{"g":"Diffuse"}]},"mark":{"type":"text","text":"**","fontWeight":"bold","fontSize":10},
      "encoding":{"x":{"field":"g","type":"nominal","scale":{"domain":["Normal","Intestinal","Diffuse"],"paddingInner":0,"paddingOuter":0.15}},"y":{"datum":-1.6,"type":"quantitative","scale":{"domain":[-2,0.5]}}}},
     {"data":{"values":[{}]},"mark":{"type":"text","text":"TCGA cohort","fontWeight":"bold","fontSize":11.5,"align":"left","dx":-21},
      "encoding":{"x":{"datum":"Normal","type":"nominal"},"y":{"datum":-1.88,"type":"quantitative","scale":{"domain":[-2,0.5]}}}}
    ]}
  ]}
 ]},
 {"spacing":0,
  "resolve":{"scale":{"color":"independent","xOffset":"independent","opacity":"independent","fill":"independent","stroke":"independent"}},
  "hconcat":[
  {"width":241,"height":182,
   "title":{"text":"f","dx":-33,"offset":-2.4},
   "layer":[
    {"data":{"name":"fbox"},"mark":{"type":"rule","color":"#808080","strokeWidth":1},
     "encoding":{"x":{"field":"g","type":"nominal","scale":{"domain":["Normal","EBV","MSI","GS","CIN"],"paddingInner":0,"paddingOuter":0.22},"axis":{"title":null,"labelAngle":0,"labelFontSize":11.5,"labelPadding":3}},
      "y":{"field":"lo","type":"quantitative","scale":{"domain":[-2,2]},"axis":{"title":"IGF2BP3 mRNA expression (log10)","values":[-2,-1,0,1,2],"tickCount":20,"labelOverlap":false,"format":"d","titleFontSize":11.5}},
      "y2":{"field":"hi"}}},
    {"data":{"name":"fbox"},"mark":{"type":"bar","fill":"#fff","stroke":"#808080","strokeWidth":1.5,"width":{"band":0.7}},
     "encoding":{"x":{"field":"g","type":"nominal","scale":{"domain":["Normal","EBV","MSI","GS","CIN"],"paddingInner":0,"paddingOuter":0.22}},"y":{"field":"q1","type":"quantitative","scale":{"domain":[-2,2]}},"y2":{"field":"q3"}}},
    {"data":{"name":"fbox"},"mark":{"type":"tick","color":"#808080","thickness":1.5,"size":31},
     "encoding":{"x":{"field":"g","type":"nominal","scale":{"domain":["Normal","EBV","MSI","GS","CIN"],"paddingInner":0,"paddingOuter":0.22}},"y":{"field":"md","type":"quantitative","scale":{"domain":[-2,2]}}}},
    {"data":{"name":"fbox"},"mark":{"type":"tick","color":"#808080","thickness":1.2,"size":8},
     "encoding":{"x":{"field":"g","type":"nominal","scale":{"domain":["Normal","EBV","MSI","GS","CIN"],"paddingInner":0,"paddingOuter":0.22}},"y":{"field":"lo","type":"quantitative","scale":{"domain":[-2,2]}}}},
    {"data":{"name":"fbox"},"mark":{"type":"tick","color":"#808080","thickness":1.2,"size":8},
     "encoding":{"x":{"field":"g","type":"nominal","scale":{"domain":["Normal","EBV","MSI","GS","CIN"],"paddingInner":0,"paddingOuter":0.22}},"y":{"field":"hi","type":"quantitative","scale":{"domain":[-2,2]}}}},
    {"data":{"name":"fpts"},
     "transform":[{"bin":{"step":0.1},"field":"v","as":"vb"},{"window":[{"op":"count","as":"one"}],"frame":[0,0]},{"stack":"one","groupby":["g","vb"],"offset":"center","as":["s0","s1"]}],
     "mark":{"type":"circle","size":6,"opacity":1},
     "encoding":{"x":{"field":"g","type":"nominal","scale":{"domain":["Normal","EBV","MSI","GS","CIN"],"paddingInner":0,"paddingOuter":0.22}},
      "xOffset":{"field":"s0","type":"quantitative","scale":{"range":[11,33],"nice":false,"zero":true}},
      "y":{"field":"v","type":"quantitative","scale":{"domain":[-2,2]}},
      "color":{"field":"g","type":"nominal","scale":{"domain":["Normal","EBV","MSI","GS","CIN"],"range":["#333333","#ee1111","#5b9bd5","#33bb33","#a8188e"]},"legend":null}}},
    {"data":{"values":[{}]},"mark":{"type":"rule","color":"#000","strokeWidth":1},
     "encoding":{"x":{"datum":"Normal","type":"nominal"},"x2":{"datum":"CIN"},"y":{"datum":1.71,"type":"quantitative","scale":{"domain":[-2,2]}}}},
    {"data":{"values":[{"g":"Normal"},{"g":"CIN"}]},"mark":{"type":"rule","color":"#000","strokeWidth":1},
     "encoding":{"x":{"field":"g","type":"nominal","scale":{"domain":["Normal","EBV","MSI","GS","CIN"],"paddingInner":0,"paddingOuter":0.22}},"y":{"datum":1.71,"type":"quantitative","scale":{"domain":[-2,2]}},"y2":{"datum":1.63}}},
    {"data":{"values":[{"g":"EBV"},{"g":"MSI"},{"g":"GS"},{"g":"CIN"}]},"mark":{"type":"text","text":"**","fontWeight":"bold","fontSize":10},
     "encoding":{"x":{"field":"g","type":"nominal","scale":{"domain":["Normal","EBV","MSI","GS","CIN"],"paddingInner":0,"paddingOuter":0.22}},"y":{"datum":1.53,"type":"quantitative","scale":{"domain":[-2,2]}}}},
    {"data":{"values":[{}]},"mark":{"type":"text","text":"TCGA cohort","fontWeight":"bold","fontSize":11.5,"align":"left","dx":-24},
     "encoding":{"x":{"datum":"Normal","type":"nominal"},"y":{"datum":-1.78,"type":"quantitative","scale":{"domain":[-2,2]}}}}
   ]},
  {"width":227,"height":113,
   "title":{"text":"g","dx":-60,"offset":-5.7},
   "data":{"values":[{"t":"Amplification","v":4,"lab":"4%"},{"t":"Missense Mutation","v":1,"lab":"1%"},{"t":"Truncating Mutation","v":1,"lab":"1%"},{"t":"mRNA Upregulation","v":14,"lab":"14%"}]},
   "layer":[
    {"mark":{"type":"bar","width":{"band":0.3},"strokeWidth":2.5},
     "encoding":{
      "x":{"field":"t","type":"nominal","sort":null,"scale":{"paddingInner":0,"paddingOuter":0},"axis":{"title":null,"labelAngle":-45,"ticks":false,"labelFontSize":11.5,"labelPadding":4}},
      "y":{"field":"v","type":"quantitative","scale":{"domain":[0,15]},"axis":{"title":"Genetic alteration rate","titleFontSize":12.5,"values":[0,5,10,15],"tickCount":20,"labelOverlap":false,"labelExpr":"datum.value + '%'","ticks":false,"labelPadding":5}},
      "fill":{"field":"t","type":"nominal","scale":{"domain":["Amplification","Missense Mutation","Truncating Mutation","mRNA Upregulation"],"range":["#ff0000","#8dc641","#000000","#ffffff"]},"legend":null},
      "stroke":{"field":"t","type":"nominal","scale":{"domain":["Amplification","Missense Mutation","Truncating Mutation","mRNA Upregulation"],"range":["#ff0000","#8dc641","#000000","#ff0000"]},"legend":null}}},
    {"mark":{"type":"text","fontWeight":"bold","fontSize":11.5,"dy":-10},
     "encoding":{"x":{"field":"t","type":"nominal","sort":null},"y":{"field":"v","type":"quantitative","scale":{"domain":[0,15]}},"text":{"field":"lab"}}}
   ]}
 ]}
]
}
